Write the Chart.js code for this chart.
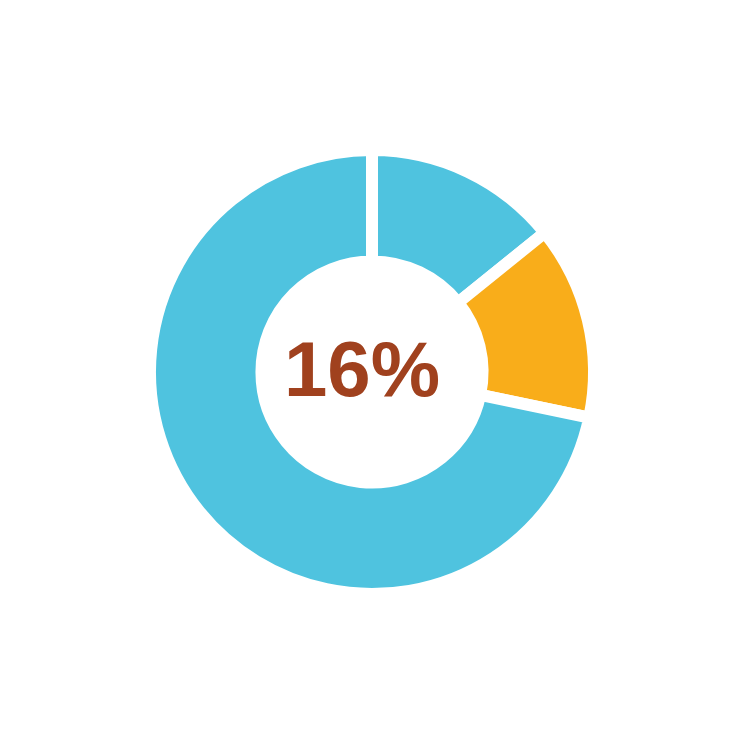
<!DOCTYPE html>
<html>
<head>
<meta charset="utf-8">
<script src="https://cdn.jsdelivr.net/npm/chart.js@4/dist/chart.umd.min.js"></script>
<style>
  html,body{margin:0;padding:0;background:#fff;}
  #wrap{width:744px;height:744px;}
</style>
</head>
<body>
<div id="wrap"><canvas id="donut" width="744" height="744"></canvas></div>
<script>
// ===== Data =====
const labels = ["Segment A", "Highlight", "Segment B"];
const values = [14.2, 14.1, 71.7];
const colors = ["#4FC3DF", "#F9AD1A", "#4FC3DF"];
const centerLabel = "16%";

// ===== Center text =====
const centerText = {
  id: "centerText",
  afterDraw(chart){
    const ctx = chart.ctx;
    const arc = chart.getDatasetMeta(0).data[0];
    ctx.save();
    ctx.font = "bold 78px 'Liberation Sans', Arial, sans-serif";
    ctx.fillStyle = "#A0411E";
    ctx.textAlign = "center";
    ctx.textBaseline = "alphabetic";
    ctx.fillText(centerLabel, arc.x - 10, arc.y + 24);
    ctx.restore();
  }
};

new Chart(document.getElementById("donut"), {
  type: "doughnut",
  data: {
    labels: labels,
    datasets: [{
      data: values,
      backgroundColor: colors,
      borderColor: "#ffffff",
      borderWidth: 12,
      hoverOffset: 0
    }]
  },
  options: {
    responsive: false,
    animation: false,
    radius: 222,
    cutout: "49.8%",
    plugins: { legend: { display: false }, tooltip: { enabled: false } }
  },
  plugins: [centerText]
});
</script>
</body>
</html>
